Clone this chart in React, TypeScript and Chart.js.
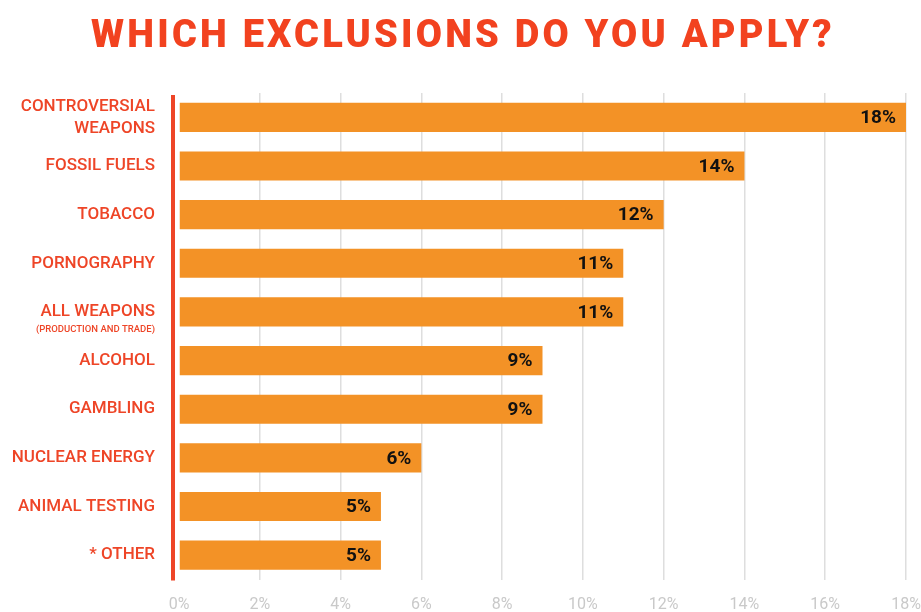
import React, { useEffect, useRef } from "react";
import { Chart, registerables } from "chart.js";

Chart.register(...registerables);

const TITLE = "WHICH EXCLUSIONS DO YOU APPLY?";
const CATEGORIES: (string | string[])[] = [
  ["CONTROVERSIAL", "WEAPONS"],
  "FOSSIL FUELS",
  "TOBACCO",
  "PORNOGRAPHY",
  "ALL WEAPONS",
  "ALCOHOL",
  "GAMBLING",
  "NUCLEAR ENERGY",
  "ANIMAL TESTING",
  "* OTHER",
];
const SUBLABELS = ["", "", "", "", "(PRODUCTION AND TRADE)", "", "", "", "", ""];
const VALUES = [18, 14, 12, 11, 11, 9, 9, 6, 5, 5];
const X_MIN = 0;
const X_MAX = 18;
const X_STEP = 2;

const RED = "#EE4527";
const ORANGE = "#F39226";

export default function App() {
  const ref = useRef<HTMLCanvasElement | null>(null);

  useEffect(() => {
    if (!ref.current) return;
    const overlay = {
      id: "overlay",
      afterDatasetsDraw(chart: any) {
        const ctx = chart.ctx;
        const x = chart.scales.x;
        const y = chart.scales.y;
        const meta = chart.getDatasetMeta(0);
        ctx.save();
        // red axis line
        ctx.strokeStyle = RED;
        ctx.lineWidth = 4;
        ctx.beginPath();
        const lx = x.getPixelForValue(0) - 6;
        ctx.moveTo(lx, chart.chartArea.top + 2);
        ctx.lineTo(lx, chart.chartArea.bottom + 1);
        ctx.stroke();
        // value labels
        ctx.fillStyle = "#111";
        ctx.font = "700 19px Roboto";
        ctx.textAlign = "right";
        ctx.textBaseline = "middle";
        meta.data.forEach((bar: any, i: number) => {
          ctx.fillText(VALUES[i] + "%", bar.x - 10, bar.y + 1);
        });
        // sublabels
        ctx.fillStyle = RED;
        ctx.font = "500 9.5px Roboto";
        SUBLABELS.forEach((s, i) => {
          if (!s) return;
          const py = y.getPixelForValue(i);
          ctx.fillText(s, x.getPixelForValue(0) - 24, py + 18);
        });
        // title
        ctx.fillStyle = "#F2421F";
        ctx.font = "900 38px Roboto";
        ctx.textAlign = "center";
        (ctx as any).letterSpacing = "3.2px";
        ctx.fillText(TITLE, 463, 37);
        ctx.restore();
      },
    };

    const chart = new Chart(ref.current, {
      type: "bar",
      data: {
        labels: CATEGORIES,
        datasets: [
          {
            data: VALUES,
            backgroundColor: ORANGE,
            borderWidth: 0,
            categoryPercentage: 1,
            barPercentage: 0.6,
          },
        ],
      },
      options: {
        indexAxis: "y",
        animation: false,
        responsive: false,
        layout: { padding: { top: 93, right: 15, left: 0, bottom: 0 } },
        plugins: {
          legend: { display: false },
          tooltip: { enabled: false },
          title: { display: false },
        },
        scales: {
          x: {
            min: X_MIN,
            max: X_MAX,
            grid: {
              color: (c: any) => (c.tick && c.tick.value === 0 ? "rgba(0,0,0,0)" : "#dedede"),
              lineWidth: 1.5,
              drawTicks: false,
            },
            border: { display: false },
            ticks: {
              stepSize: X_STEP,
              callback: (v: any) => v + "%",
              color: "#c9c9c9",
              font: { family: "Roboto", size: 16, weight: "400" },
              padding: 16,
            },
            afterFit: (s: any) => {
              s.height = 32.5;
              s.paddingLeft = 0;
              s.paddingRight = 0;
            },
          },
          y: {
            grid: { display: false },
            border: { display: false },
            ticks: {
              color: RED,
              font: { family: "Roboto", size: 17, weight: "500", lineHeight: 1.3 },
              padding: 16,
            },
            afterFit: (s: any) => {
              s.width = 179;
              s.paddingTop = 0;
              s.paddingBottom = 0;
            },
          },
        },
      },
      plugins: [overlay],
    });
    return () => chart.destroy();
  }, []);

  return (
    <div style={{ position: "fixed", left: 0, top: 0, width: 921, height: 612, background: "#fff" }}>
      <canvas ref={ref} width={921} height={612} />
    </div>
  );
}
